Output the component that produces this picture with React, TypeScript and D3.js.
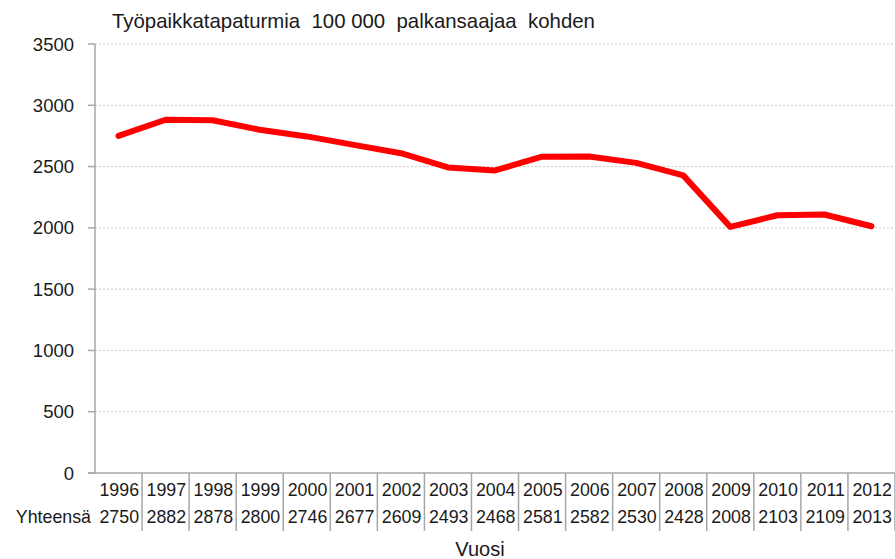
import React from "react";
import * as d3 from "d3";

const years = ["1996","1997","1998","1999","2000","2001","2002","2003","2004","2005","2006","2007","2008","2009","2010","2011","2012"];
const values = [2750,2882,2878,2800,2746,2677,2609,2493,2468,2581,2582,2530,2428,2008,2103,2109,2013];
const yTicks = [0,500,1000,1500,2000,2500,3000,3500];
const title = "Työpaikkatapaturmia  100 000  palkansaajaa  kohden";
const rowLabel = "Yhteensä";
const xTitle = "Vuosi";

export default function App() {
  const W = 895, H = 559;
  const left = 95, right = 895, top = 44, bottom = 473;
  const x = d3.scaleBand<string>().domain(years).range([left, right]).padding(0);
  const y = d3.scaleLinear().domain([0, 3500]).range([bottom, top]);
  const line = d3.line<number>()
    .x((_, i) => (x(years[i]) as number) + x.bandwidth() / 2)
    .y((d) => y(d));
  const font = "'Liberation Sans', Arial, sans-serif";
  const gray = "#a6a6a6";
  return (
    <svg width={W} height={H} style={{ position: "absolute", left: 0, top: 0, background: "#fff" }} fontFamily={font}>
      <rect x={0} y={0} width={W} height={H} fill="#fff" />
      <text x={112} y={28} fontSize={20.4} fill="#1a1a1a" style={{ whiteSpace: "pre" }}>{title}</text>
      {yTicks.filter((t) => t > 0).map((t) => (
        <line key={"g" + t} x1={left} x2={right} y1={y(t)} y2={y(t)} stroke="#c8c8c8" strokeWidth={1} strokeDasharray="2,2" />
      ))}
      {yTicks.map((t) => (
        <g key={"t" + t}>
          <line x1={88} x2={left} y1={y(t)} y2={y(t)} stroke={gray} strokeWidth={1.5} />
          <text x={74} y={y(t) + 6.5} fontSize={18.5} textAnchor="end" fill="#1a1a1a">{t}</text>
        </g>
      ))}
      <line x1={left} x2={left} y1={top} y2={bottom} stroke={gray} strokeWidth={1.5} />
      <line x1={88} x2={right} y1={bottom} y2={bottom} stroke={gray} strokeWidth={1.5} />
      {years.map((yr, i) => {
        const x0 = x(yr) as number;
        const xe = x0 + x.bandwidth();
        return (
          <g key={yr}>
            <line x1={xe} x2={xe} y1={bottom} y2={531} stroke={gray} strokeWidth={1.5} />
            <text x={xe - 3} y={496} fontSize={17.8} textAnchor="end" fill="#1a1a1a">{yr}</text>
            <text x={xe - 3} y={523} fontSize={17.8} textAnchor="end" fill="#1a1a1a">{values[i]}</text>
          </g>
        );
      })}
      <text x={91} y={523} fontSize={17.8} textAnchor="end" fill="#1a1a1a">{rowLabel}</text>
      <text x={480} y={556} fontSize={20} textAnchor="middle" fill="#1a1a1a">{xTitle}</text>
      <path d={line(values) || ""} fill="none" stroke="#ff0000" strokeWidth={6} strokeLinejoin="round" strokeLinecap="round" />
    </svg>
  );
}
